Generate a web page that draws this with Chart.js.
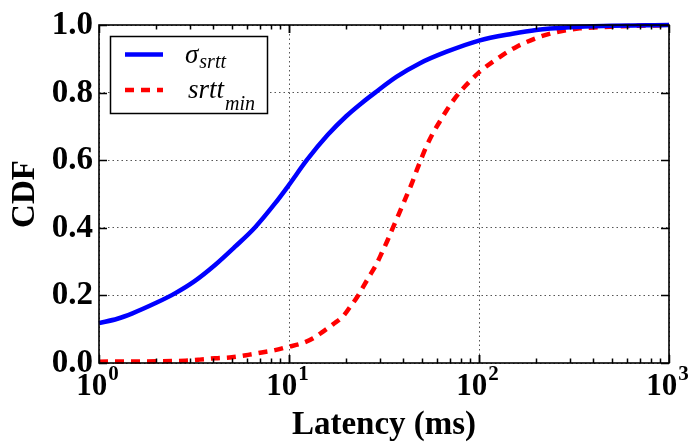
<!DOCTYPE html>
<html>
<head>
<meta charset="utf-8">
<script src="https://cdn.jsdelivr.net/npm/chart.js@4.4.1/dist/chart.umd.min.js"></script>
<style>
  body { margin: 0; background: #fff; }
  canvas { display: block; }
</style>
</head>
<body>
<canvas id="chart" width="688" height="443"></canvas>
<script>
'use strict';

// latency samples (ms) and cumulative fraction for each curve
const sigmaLatency = [1, 1.25, 1.5, 2, 2.51, 3.2, 4.08, 5.2, 6.62, 8.44, 10, 12.4, 16, 20, 24, 28.4, 36.9, 48.9, 67.6, 100, 150, 200, 300, 450, 1000];
const sigmaCdf = [0.118, 0.131, 0.147, 0.178, 0.206, 0.243, 0.29, 0.344, 0.401, 0.472, 0.527, 0.6, 0.675, 0.73, 0.768, 0.8, 0.847, 0.887, 0.921, 0.954, 0.974, 0.985, 0.993, 0.997, 1.0];

const minLatency = [1, 2, 2.84, 3.39, 4.08, 5, 6.1, 7.18, 8.44, 9.9, 11.7, 13.4, 15.1, 17.1, 19.3, 20.9, 22.9, 24.6, 26.5, 28.7, 30.8, 32.9, 35.1, 37.6, 40.3, 44.2, 47, 49.9, 53, 57.5, 62.4, 67.6, 73.3, 81.1, 89.7, 101, 129, 158, 209, 261, 339, 490, 1000];
const minCdf = [0.004, 0.005, 0.007, 0.01, 0.014, 0.017, 0.024, 0.031, 0.038, 0.048, 0.058, 0.073, 0.093, 0.115, 0.139, 0.165, 0.196, 0.226, 0.257, 0.29, 0.326, 0.361, 0.398, 0.437, 0.477, 0.53, 0.57, 0.607, 0.642, 0.682, 0.716, 0.748, 0.777, 0.808, 0.834, 0.862, 0.906, 0.936, 0.965, 0.98, 0.99, 0.995, 1.0];

const xDecades = [1, 10, 100, 1000];
const yTicks = [0, 0.2, 0.4, 0.6, 0.8, 1.0];

const SERIF = '"Liberation Serif", "Times New Roman", serif';

function toPoints(xs, ys) {
  return xs.map((x, i) => ({ x: x, y: ys[i] }));
}

function isDecade(v) {
  const l = Math.log10(v);
  return Math.abs(l - Math.round(l)) < 1e-9;
}

// frame, inward ticks, tick labels, axis titles and legend
const axesPlugin = {
  id: 'axesPlugin',
  afterDraw(chart) {
    const ctx = chart.ctx;
    const area = chart.chartArea;
    const xs = chart.scales.x;
    const ys = chart.scales.y;

    ctx.save();
    ctx.strokeStyle = '#000';
    ctx.lineWidth = 1.5;

    // minor and major ticks on the x axis, top and bottom
    for (let d = 1; d < 1000; d *= 10) {
      for (let k = 1; k <= 10; k++) {
        const v = d * k;
        const px = Math.round(xs.getPixelForValue(v)) + 0.5;
        const len = k === 1 || k === 10 ? 8 : 4.5;
        ctx.beginPath();
        ctx.moveTo(px, area.bottom);
        ctx.lineTo(px, area.bottom - len);
        ctx.moveTo(px, area.top);
        ctx.lineTo(px, area.top + len);
        ctx.stroke();
      }
    }
    // y ticks, left and right
    yTicks.forEach(t => {
      const py = Math.round(ys.getPixelForValue(t)) + 0.5;
      ctx.beginPath();
      ctx.moveTo(area.left, py);
      ctx.lineTo(area.left + 8, py);
      ctx.moveTo(area.right, py);
      ctx.lineTo(area.right - 8, py);
      ctx.stroke();
    });

    ctx.lineWidth = 1.6;
    ctx.strokeRect(area.left, area.top, area.right - area.left, area.bottom - area.top);

    // y tick labels
    ctx.fillStyle = '#000';
    ctx.font = 'bold 33px ' + SERIF;
    ctx.textAlign = 'right';
    ctx.textBaseline = 'alphabetic';
    yTicks.forEach(t => {
      ctx.fillText(t.toFixed(1), area.left - 6, ys.getPixelForValue(t) + 9);
    });

    // x tick labels as powers of ten
    ctx.textAlign = 'left';
    xDecades.forEach(v => {
      const exp = String(Math.round(Math.log10(v)));
      ctx.font = 'bold 31px ' + SERIF;
      const wBase = ctx.measureText('10').width;
      ctx.font = 'bold 21px ' + SERIF;
      const wExp = ctx.measureText(exp).width;
      const x0 = xs.getPixelForValue(v) - (wBase + wExp) / 2 - 2;
      ctx.font = 'bold 31px ' + SERIF;
      ctx.fillText('10', x0, 395);
      ctx.font = 'bold 21px ' + SERIF;
      ctx.fillText(exp, x0 + wBase + 1, 380);
    });

    // axis titles
    ctx.font = 'bold 33px ' + SERIF;
    ctx.textAlign = 'center';
    ctx.fillText('Latency (ms)', (area.left + area.right) / 2, 434);
    ctx.save();
    ctx.translate(34, (area.top + area.bottom) / 2);
    ctx.rotate(-Math.PI / 2);
    ctx.fillText('CDF', 0, 0);
    ctx.restore();

    // legend
    const box = { x: 110.5, y: 36.5, w: 157, h: 77 };
    ctx.fillStyle = '#fff';
    ctx.fillRect(box.x, box.y, box.w, box.h);
    ctx.lineWidth = 1.5;
    ctx.strokeStyle = '#000';
    ctx.strokeRect(box.x, box.y, box.w, box.h);

    const sets = chart.data.datasets;
    const rows = [
      { y: 54.5, base: '\u03c3', sub: 'srtt', baseY: 63, subY: 68, textX: 185 },
      { y: 90, base: 'srtt', sub: 'min', baseY: 98, subY: 110, textX: 188 }
    ];
    rows.forEach((r, i) => {
      ctx.save();
      ctx.strokeStyle = sets[i].borderColor;
      ctx.lineWidth = sets[i].borderWidth;
      ctx.setLineDash(sets[i].borderDash || []);
      ctx.lineCap = 'butt';
      ctx.beginPath();
      ctx.moveTo(125, r.y);
      ctx.lineTo(163, r.y);
      ctx.stroke();
      ctx.restore();

      ctx.fillStyle = '#000';
      ctx.textAlign = 'left';
      ctx.font = 'italic 27px ' + SERIF;
      ctx.fillText(r.base, r.textX, r.baseY);
      const w = ctx.measureText(r.base).width;
      ctx.font = 'italic 20px ' + SERIF;
      ctx.fillText(r.sub, r.textX + w + 1, r.subY);
    });

    ctx.restore();
  }
};

function renderChart() {
  const data = {
    datasets: [
      {
        label: 'sigma_srtt',
        data: toPoints(sigmaLatency, sigmaCdf),
        borderColor: '#0000ff',
        borderWidth: 4.5,
        pointRadius: 0,
        cubicInterpolationMode: 'monotone',
        fill: false
      },
      {
        label: 'srtt_min',
        data: toPoints(minLatency, minCdf),
        borderColor: '#ff0000',
        borderWidth: 4.5,
        borderDash: [9, 7],
        pointRadius: 0,
        cubicInterpolationMode: 'monotone',
        fill: false
      }
    ]
  };

  const config = {
    type: 'line',
    data: data,
    options: {
      responsive: false,
      animation: false,
      clip: false,
      layout: { padding: { left: 99, right: 19, top: 25, bottom: 80 } },
      plugins: {
        legend: { display: false },
        tooltip: { enabled: false }
      },
      scales: {
        x: {
          type: 'logarithmic',
          min: 1,
          max: 1000,
          ticks: { display: false },
          grid: {
            drawTicks: false,
            lineWidth: 1,
            color: c => (c.tick && isDecade(c.tick.value)) ? '#555' : 'rgba(0,0,0,0)'
          },
          border: { display: false, dash: [1.5, 3] }
        },
        y: {
          type: 'linear',
          min: 0,
          max: 1,
          ticks: { display: false, stepSize: 0.2 },
          grid: { drawTicks: false, lineWidth: 1, color: '#555' },
          border: { display: false, dash: [1.5, 3] }
        }
      }
    },
    plugins: [axesPlugin]
  };

  const myChart = new Chart(document.getElementById('chart'), config);
}

renderChart();
</script>
</body>
</html>
